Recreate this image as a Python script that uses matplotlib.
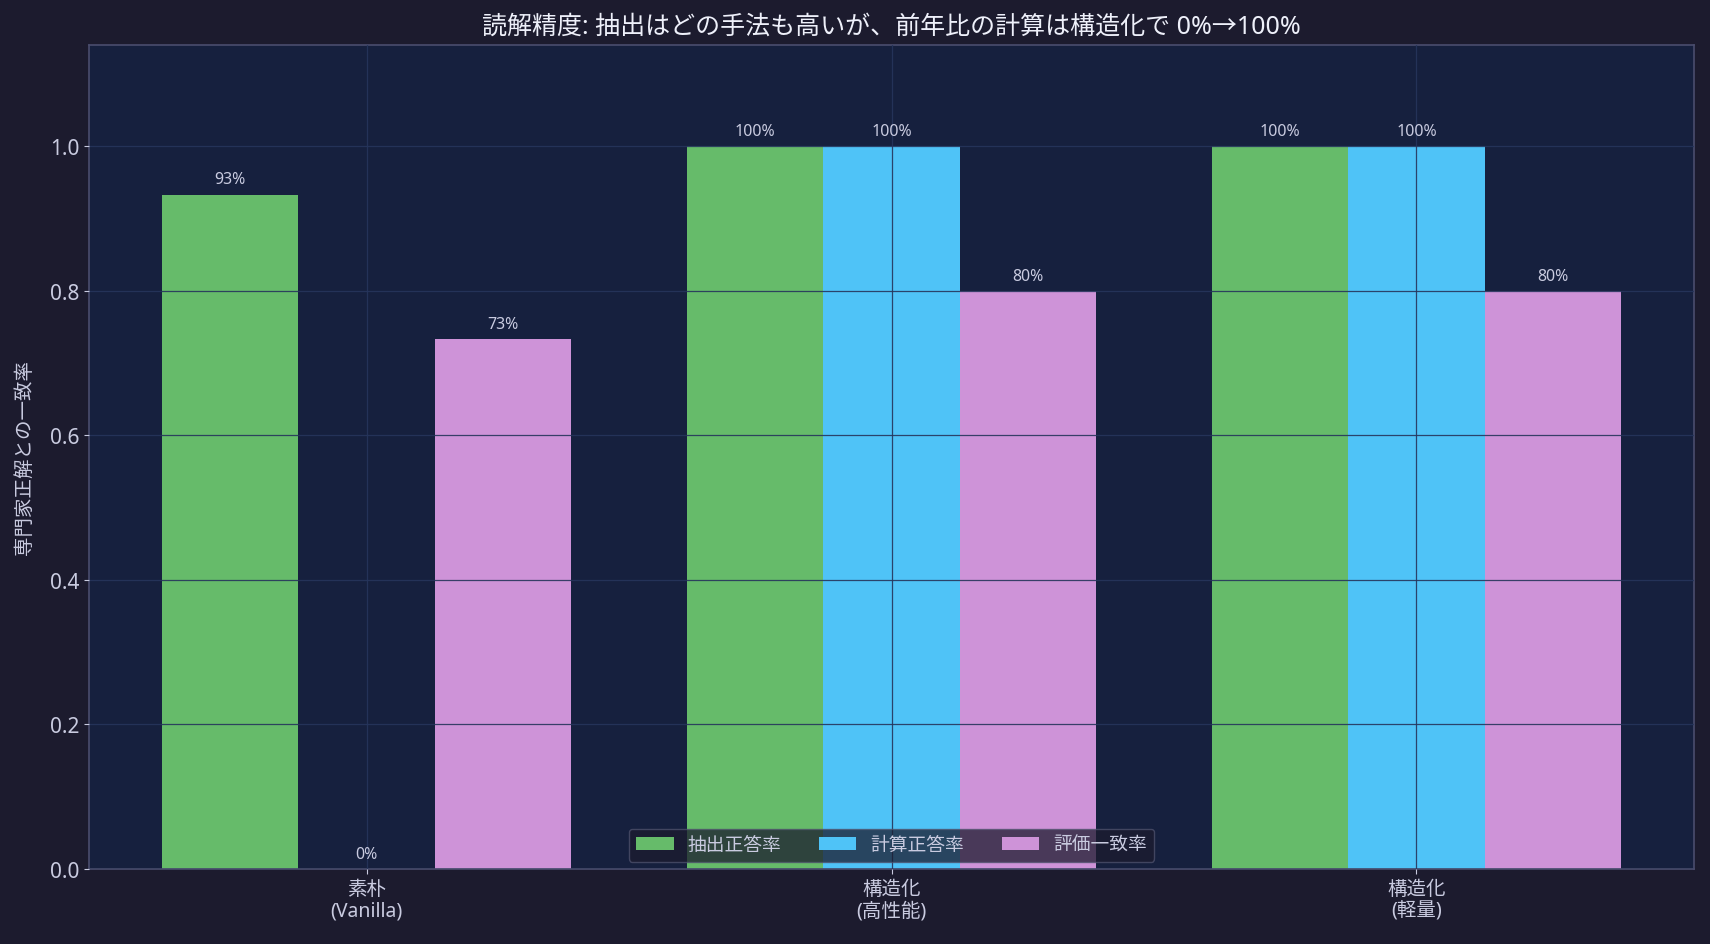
import matplotlib
matplotlib.use("Agg")
import matplotlib.pyplot as plt
import numpy as np

plt.rcParams['font.family'] = ['Noto Sans', 'Noto Sans CJK JP', 'DejaVu Sans']

categories = ["素朴\n(Vanilla)", "構造化\n(高性能)", "構造化\n(軽量)"]
series_names = ["抽出正答率", "計算正答率", "評価一致率"]
extract_acc = [0.933, 1.0, 1.0]
calc_acc = [0.0, 1.0, 1.0]
eval_agree = [0.733, 0.8, 0.8]
series_values = [extract_acc, calc_acc, eval_agree]
colors = ["#66bb6a", "#4fc3f7", "#ce93d8"]

fig_bg = "#1c1b2e"
ax_bg = "#16203e"
txt = "#c9cbe0"

fig = plt.figure(figsize=(17.1, 9.45), dpi=100, facecolor=fig_bg)
ax = fig.add_axes([89/1710, 1-870/945, (1694-89)/1710, (870-46)/945])
ax.set_facecolor(ax_bg)

x = np.arange(len(categories))
w = 0.26
for i, (name, vals, c) in enumerate(zip(series_names, series_values, colors)):
    pos = x + (i - 1) * w
    ax.bar(pos, vals, w, color=c, label=name, zorder=1)
    for px, v in zip(pos, vals):
        ax.text(px, v + 0.01, f"{v*100:.0f}%", ha="center", va="bottom",
                color=txt, fontsize=11.5, zorder=3)

ax.set_ylim(0, 1.14)
ax.set_xticks(x)
ax.set_xticklabels(categories, fontsize=14, color=txt, linespacing=1.1)
ax.tick_params(axis="y", labelsize=15, colors=txt)
ax.tick_params(axis="x", colors=txt)
ax.set_ylabel("専門家正解との一致率", color=txt, fontsize=14, labelpad=11)
ax.set_title("読解精度: 抽出はどの手法も高いが、前年比の計算は構造化で 0%→100%",
             color="#eef0fa", fontsize=18, pad=9)
ax.set_axisbelow(False)
ax.grid(True, color="#26355c", alpha=0.9, linewidth=0.9, zorder=2)
for s in ax.spines.values():
    s.set_color("#4a4d6e")
    s.set_linewidth(1.2)

leg = ax.legend(loc="lower center", ncol=3, fontsize=13.5, frameon=True,
                facecolor="#1c1b2e", edgecolor="#50536e", framealpha=0.75,
                labelcolor=txt, handlelength=2.0, handletextpad=0.75,
                columnspacing=2.0, borderaxespad=0.4)
leg.set_zorder(5)

fig.savefig("out.png", dpi=100, facecolor=fig_bg)
